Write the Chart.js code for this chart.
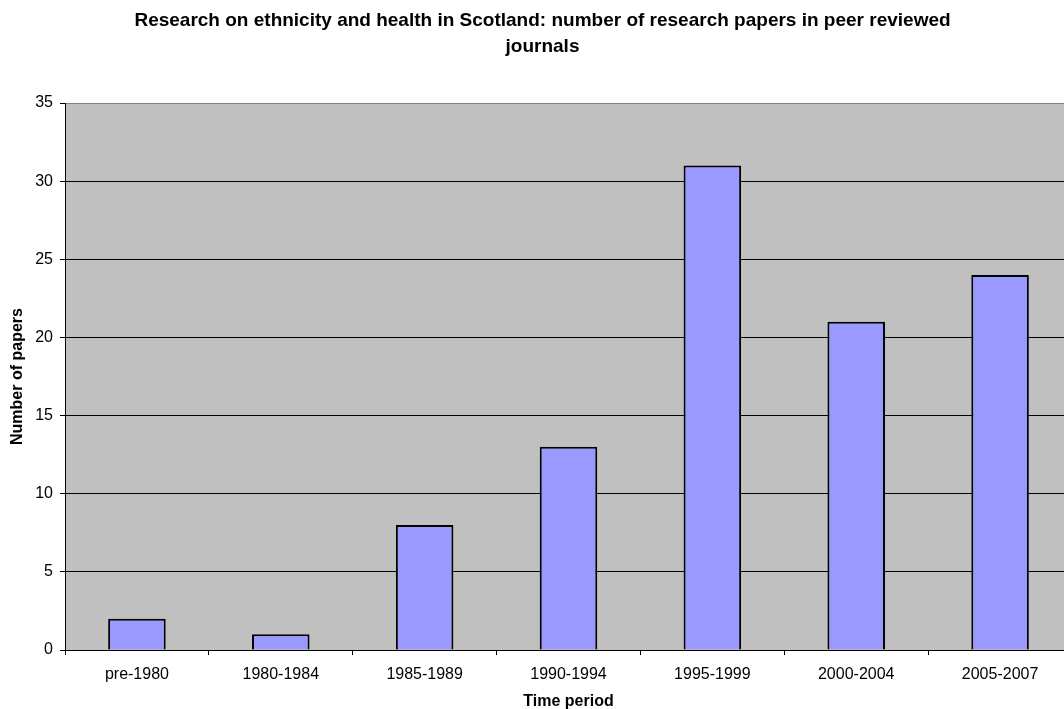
<!DOCTYPE html>
<html>
<head>
<meta charset="utf-8">
<script src="https://cdn.jsdelivr.net/npm/chart.js@4/dist/chart.umd.min.js"></script>
<style>
  html, body { margin: 0; padding: 0; background: #ffffff; overflow: hidden; }
  #wrap { width: 1084px; height: 709px; position: relative; }
</style>
</head>
<body>
<div id="wrap"><canvas id="chart"></canvas></div>
<script>
// Papers per time period
const periods = ['pre-1980', '1980-1984', '1985-1989', '1990-1994', '1995-1999', '2000-2004', '2005-2007'];
const paperCounts = [2, 1, 8, 13, 31, 21, 24];
const yTicks = [0, 5, 10, 15, 20, 25, 30, 35];

const FONT = "'Liberation Sans', Arial, sans-serif";

// Grey plot-area fill behind the bars
const plotBackground = {
  id: 'plotBackground',
  beforeDraw(chart) {
    const { ctx, chartArea: a } = chart;
    ctx.save();
    ctx.fillStyle = '#c0c0c0';
    ctx.fillRect(a.left, a.top, a.right - a.left, a.bottom - a.top);
    ctx.restore();
  }
};

new Chart(document.getElementById('chart'), {
  type: 'bar',
  data: {
    labels: periods,
    datasets: [{
      data: paperCounts,
      backgroundColor: '#9999ff',
      borderColor: '#000000',
      borderWidth: 2,
      barPercentage: 0.4,
      categoryPercentage: 1.0
    }]
  },
  options: {
    responsive: true,
    maintainAspectRatio: false,
    animation: false,
    layout: { padding: { left: 13, right: 12, top: 0, bottom: 0 } },
    plugins: {
      legend: { display: false },
      tooltip: { enabled: false },
      title: {
        display: true,
        text: ['Research on ethnicity and health in Scotland: number of research papers in peer reviewed', 'journals'],
        color: '#000000',
        font: { family: FONT, size: 19, weight: 'bold', lineHeight: '26px' },
        padding: { top: 8, bottom: 43 }
      }
    },
    scales: {
      x: {
        offset: true,
        grid: {
          offset: true,
          drawOnChartArea: false,
          drawTicks: true,
          tickLength: 5,
          color: '#000000'
        },
        border: { display: true, color: '#000000', width: 1 },
        ticks: {
          color: '#000000',
          font: { family: FONT, size: 16 },
          padding: 10,
          maxRotation: 0,
          autoSkip: false
        },
        title: {
          display: true,
          text: 'Time period',
          color: '#000000',
          font: { family: FONT, size: 16, weight: 'bold', lineHeight: '14px' },
          padding: { top: 0, bottom: 0 }
        },
        afterFit(scale) { scale.height = 59; }
      },
      y: {
        min: 0,
        max: 35,
        afterBuildTicks(scale) { scale.ticks = yTicks.map(v => ({ value: v })); },
        grid: {
          drawTicks: true,
          tickLength: 5,
          color: ctx => (ctx.tick && ctx.tick.value === 35 ? '#808080' : '#000000'),
          tickColor: '#000000',
          lineWidth: 1
        },
        border: { display: true, color: '#000000', width: 1 },
        ticks: {
          color: '#000000',
          font: { family: FONT, size: 16 },
          padding: 7
        },
        title: {
          display: true,
          text: 'Number of papers',
          color: '#000000',
          font: { family: FONT, size: 16, weight: 'bold', lineHeight: '10px' },
          padding: { top: 0, bottom: 0 }
        },
        afterFit(scale) { scale.width = 52; }
      }
    }
  },
  plugins: [plotBackground]
});
</script>
</body>
</html>
